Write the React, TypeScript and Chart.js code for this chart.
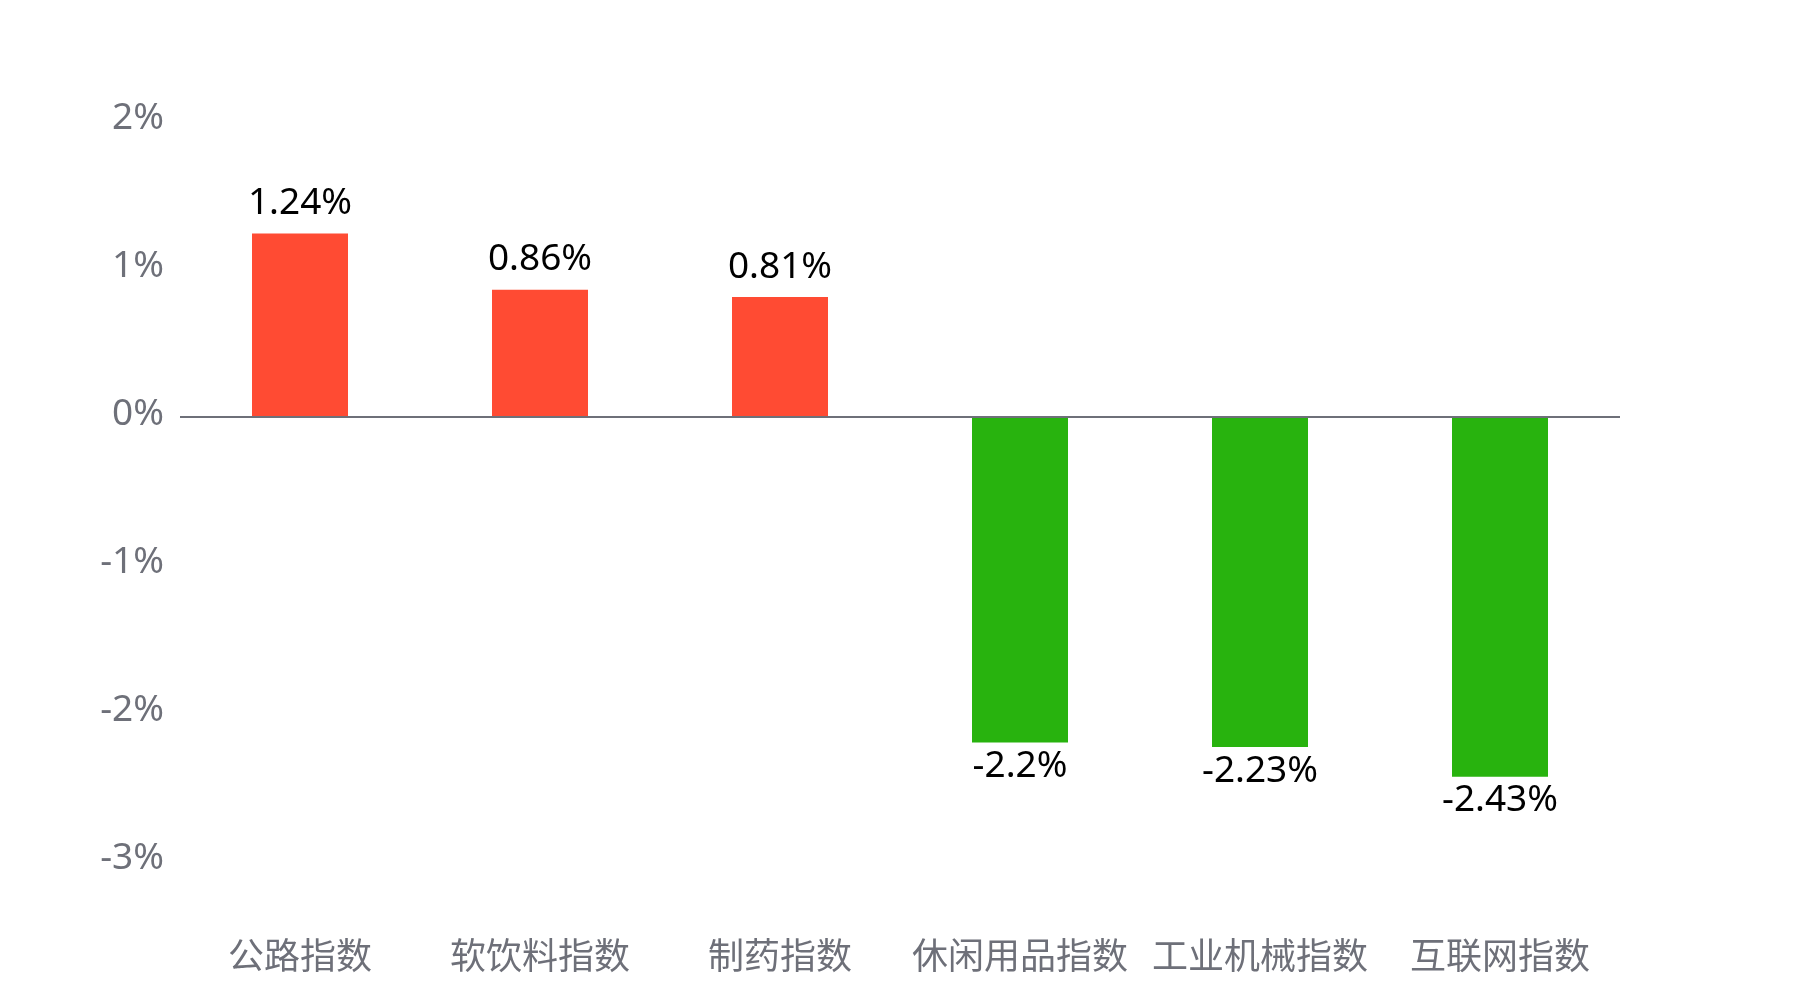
import React, { useEffect, useRef } from "react";
import { Chart, registerables } from "chart.js";

Chart.register(...registerables);

const categories = ["公路指数", "软饮料指数", "制药指数", "休闲用品指数", "工业机械指数", "互联网指数"];
const values = [1.24, 0.86, 0.81, -2.2, -2.23, -2.43];
const yTicks = [2, 1, 0, -1, -2, -3];

const RED = "#FF4B33";
const GREEN = "#28B30E";
const AXIS_GRAY = "#6E7079";
const FONT = "'Noto Sans', 'Noto Sans CJK SC', sans-serif";

const valueLabels = {
  id: "valueLabels",
  afterDatasetsDraw(chart: any) {
    const ctx = chart.ctx;
    const meta = chart.getDatasetMeta(0);
    ctx.save();
    ctx.font = `37px ${FONT}`;
    ctx.fillStyle = "#000000";
    ctx.textAlign = "center";
    ctx.textBaseline = "middle";
    meta.data.forEach((bar: any, i: number) => {
      const v = values[i];
      const text = `${v}%`;
      const y = v >= 0 ? bar.y - 30 : bar.y + 24;
      ctx.fillText(text, bar.x, y);
    });
    ctx.restore();
  },
};

export default function App() {
  const canvasRef = useRef<HTMLCanvasElement | null>(null);

  useEffect(() => {
    document.body.style.margin = "0";
    const canvas = canvasRef.current;
    if (!canvas) return;
    const chart = new Chart(canvas, {
      type: "bar",
      data: {
        labels: categories,
        datasets: [
          {
            data: values,
            backgroundColor: values.map((v) => (v >= 0 ? RED : GREEN)),
            borderWidth: 0,
            categoryPercentage: 1,
            barPercentage: 0.4,
          },
        ],
      },
      options: {
        responsive: false,
        animation: false,
        devicePixelRatio: 1,
        layout: { padding: { top: 121, left: 0, right: 180, bottom: 0 } },
        plugins: {
          legend: { display: false },
          tooltip: { enabled: false },
        },
        scales: {
          x: {
            grid: { display: false, drawTicks: false },
            border: { display: false },
            ticks: {
              color: AXIS_GRAY,
              font: { size: 36, family: FONT },
              padding: 76,
              maxRotation: 0,
              autoSkip: false,
            },
            afterFit: (scale: any) => {
              scale.height = 139;
            },
          },
          y: {
            min: -3,
            max: 2,
            afterBuildTicks: (scale: any) => {
              scale.ticks = yTicks.map((v) => ({ value: v }));
            },
            grid: {
              drawTicks: false,
              color: (c: any) => (c.tick && c.tick.value === 0 ? AXIS_GRAY : "rgba(0,0,0,0)"),
              lineWidth: 2,
            },
            border: { display: false },
            ticks: {
              color: AXIS_GRAY,
              font: { size: 37, family: FONT },
              padding: 16,
              labelOffset: -3,
              callback: (v: any) => `${v}%`,
            },
            afterFit: (scale: any) => {
              scale.width = 180;
            },
          },
        },
      },
      plugins: [valueLabels],
    });
    return () => chart.destroy();
  }, []);

  return (
    <div style={{ width: 1800, height: 1000, background: "#ffffff" }}>
      <canvas ref={canvasRef} width={1800} height={1000} />
    </div>
  );
}
